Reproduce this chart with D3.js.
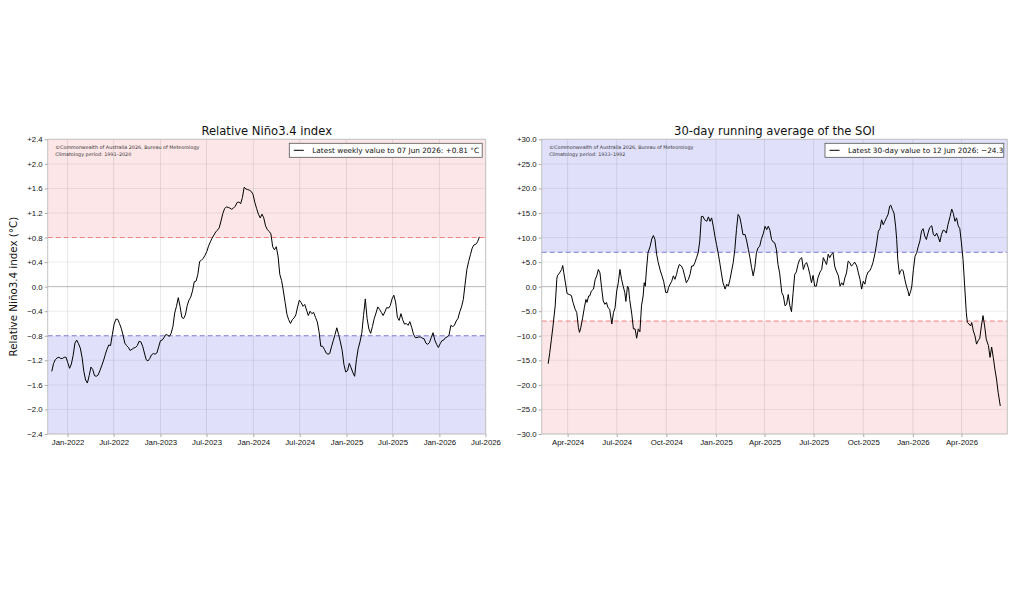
<!DOCTYPE html>
<html>
<head>
<meta charset="utf-8">
<script src="https://cdn.jsdelivr.net/npm/d3@7"></script>
<style>
  body { margin: 0; background: #fff; }
  svg { font-family: "DejaVu Sans", sans-serif; }
</style>
</head>
<body>
<div id="chart"></div>
<script>
// ---- data ----
// weekly relative Nino3.4, first week ending 31 Oct 2021, last 07 Jun 2026
const ninoStart = "2021-10-31";
const ninoValues = [
  -1.38,-1.25,-1.19,-1.16,-1.15,-1.17,-1.17,-1.15,-1.15,-1.24,
  -1.33,-1.26,-1.12,-0.92,-0.87,-0.93,-1.00,-1.15,-1.38,-1.52,
  -1.57,-1.45,-1.31,-1.35,-1.45,-1.46,-1.44,-1.37,-1.29,-1.21,
  -1.11,-1.02,-0.95,-0.96,-0.78,-0.61,-0.53,-0.53,-0.60,-0.68,
  -0.79,-0.92,-0.96,-0.99,-1.04,-1.02,-1.00,-0.99,-0.96,-0.89,
  -0.90,-0.97,-1.08,-1.19,-1.21,-1.17,-1.11,-1.09,-1.10,-1.08,
  -0.98,-0.88,-0.87,-0.83,-0.78,-0.79,-0.81,-0.76,-0.65,-0.43,
  -0.32,-0.18,-0.32,-0.50,-0.52,-0.46,-0.31,-0.22,-0.17,-0.07,
  0.08,0.09,0.20,0.41,0.43,0.46,0.51,0.57,0.66,0.73,
  0.79,0.84,0.89,0.92,0.96,1.07,1.19,1.27,1.30,1.29,
  1.28,1.26,1.28,1.31,1.37,1.38,1.35,1.45,1.62,1.59,
  1.58,1.57,1.55,1.50,1.37,1.27,1.18,1.12,1.18,1.12,
  0.99,0.93,0.90,0.86,0.65,0.60,0.65,0.50,0.20,0.10,
  -0.07,-0.26,-0.45,-0.54,-0.60,-0.54,-0.51,-0.46,-0.33,-0.22,
  -0.26,-0.32,-0.29,-0.38,-0.47,-0.40,-0.44,-0.42,-0.50,-0.57,
  -0.73,-0.97,-0.97,-1.02,-1.08,-1.10,-1.09,-0.98,-0.88,-0.78,
  -0.67,-0.78,-0.90,-1.04,-1.27,-1.39,-1.37,-1.25,-1.32,-1.40,
  -1.46,-1.19,-1.01,-0.90,-0.76,-0.47,-0.20,-0.52,-0.69,-0.76,
  -0.65,-0.52,-0.43,-0.33,-0.37,-0.42,-0.47,-0.41,-0.34,-0.35,
  -0.31,-0.20,-0.14,-0.25,-0.50,-0.55,-0.44,-0.54,-0.61,-0.60,
  -0.63,-0.57,-0.66,-0.77,-0.83,-0.83,-0.82,-0.82,-0.84,-0.85,
  -0.92,-0.94,-0.91,-0.83,-0.75,-0.87,-0.94,-0.99,-0.93,-0.88,
  -0.87,-0.83,-0.82,-0.79,-0.63,-0.65,-0.63,-0.56,-0.52,-0.41,
  -0.33,-0.21,0.04,0.28,0.41,0.52,0.63,0.68,0.69,0.73,0.81
];
const ninoTicks = [-2.4,-2.0,-1.6,-1.2,-0.8,-0.4,0,0.4,0.8,1.2,1.6,2.0,2.4];
const ninoMonths = ["2022-01-01","2022-07-01","2023-01-01","2023-07-01","2024-01-01",
  "2024-07-01","2025-01-01","2025-07-01","2026-01-01","2026-07-01"];
const ninoRange = ["2021-10-15","2026-07-02"];

// 30-day SOI, day counted from 1 Feb 2024
const soiBase = "2024-02-01";
const soiDay = [
  24,27,30,33,37,40,41,45,49,51,53,57,59,63,67,70,74,77,80,82,84,88,91,94,96,99,101,104,108,111,
  114,117,120,123,126,129,132,135,138,142,145,148,151,154,157,160,163,166,168,171,173,175,179,182,185,188,191,194,197,200,
  202,204,206,209,213,216,219,222,225,228,232,235,238,242,245,247,250,253,256,259,262,264,267,271,274,277,280,284,287,290,
  293,296,299,302,305,308,311,314,318,321,324,327,330,333,336,339,342,345,348,352,355,358,361,364,367,370,373,376,379,382,
  385,389,392,395,398,401,404,407,410,413,416,419,423,426,429,432,435,438,441,444,447,450,453,457,460,463,466,469,472,475,
  478,481,484,487,490,494,497,500,503,506,509,512,515,518,521,524,528,531,534,537,540,543,546,549,552,555,558,562,565,568,
  571,574,577,580,583,586,589,592,596,599,602,605,608,611,614,617,620,623,626,630,633,636,639,642,645,648,651,654,657,659,
  662,665,668,670,672,675,677,680,682,685,688,691,693,696,698,701,704,707,710,713,716,719,722,725,728,731,735,738,741,744,
  747,750,753,756,759,762,765,769,772,775,778,781,784,787,790,793,796,799,801,804,807,809,812,815,818,821,824,827,830,833,
  836,840,843,846,849,852,855,858,862
];
const soiValues = [
  -15.7,-13.4,-10.7,-8.0,-3.9,1.5,2.2,2.8,3.5,4.3,2.8,0.1,-1.4,-1.6,-1.8,-3.2,-4.6,-5.3,-8.3,-9.3,-8.6,-6.3,-4.3,-2.6,-3.2,-1.9,-1.9,-0.9,-0.5,1.4,
  2.2,3.5,2.8,-0.2,-2.9,-3.6,-3.2,-4.3,-4.6,-7.6,-5.3,-4.3,-0.9,0.8,3.5,1.5,0.1,-1.2,-3.0,0.1,-0.2,-2.6,-5.6,-8.6,-8.6,-10.5,-8.6,-9.2,-3.9,-1.9,
  0.8,0.1,3.2,6.9,8.2,9.7,10.4,9.6,6.6,4.9,3.2,2.2,1.1,-1.2,-1.2,-0.2,0.5,1.1,2.2,1.5,2.5,3.5,4.5,4.2,3.5,2.2,0.8,1.5,2.5,4.2,
  4.2,4.9,5.9,6.9,9.3,14.3,14.3,13.6,13.3,14.2,13.3,14.0,12.3,10.3,8.6,6.9,4.9,2.8,0.8,-0.5,0.5,0.1,1.5,3.2,4.9,7.6,11.6,14.7,14.2,12.6,
  10.6,10.6,9.3,7.6,5.9,3.9,2.2,3.9,6.9,7.9,8.2,9.6,10.9,12.3,11.6,12.3,11.5,9.6,9.1,8.9,7.6,4.5,2.8,-1.2,-1.9,-3.9,-3.6,-1.6,-3.9,-5.1,
  -1.2,2.5,3.0,4.5,5.5,5.9,3.5,4.5,4.9,3.9,2.5,0.8,2.3,0.1,0.1,1.8,3.0,3.5,5.9,5.2,4.5,6.6,5.9,6.6,6.9,4.2,3.2,2.2,0.1,0.8,
  0.3,1.8,2.8,5.2,4.9,4.2,4.5,5.0,4.2,2.8,1.5,-0.5,1.1,0.5,2.2,3.0,3.2,3.9,4.9,6.9,8.9,11.3,11.8,13.6,12.6,13.3,14.0,14.7,16.4,16.6,
  15.7,15.0,12.3,9.6,5.5,2.5,3.2,3.5,3.2,1.5,0.1,-0.9,-1.9,-0.9,0.1,3.5,6.2,6.9,8.2,9.3,11.3,11.8,10.3,9.6,10.9,12.0,12.4,10.6,10.3,10.9,
  10.1,9.1,10.6,11.5,11.4,10.9,12.6,14.3,15.8,14.9,13.3,14.0,12.4,11.8,8.9,5.5,0.1,-5.3,-7.3,-7.6,-8.0,-7.3,-9.0,-10.0,-11.7,-11.0,-10.5,-8.0,-5.9,-8.0,
  -10.7,-12.0,-14.4,-12.3,-14.4,-16.8,-18.8,-21.5,-24.3
];
const soiTicks = [-30,-25,-20,-15,-10,-5,0,5,10,15,20,25,30];
const soiMonths = ["2024-04-01","2024-07-01","2024-10-01","2025-01-01","2025-04-01",
  "2025-07-01","2025-10-01","2026-01-01","2026-04-01"];
const soiRange = ["2024-02-13","2026-06-25"];

// ---- layout ----
const width = 1024, height = 616;
const plotTop = 139.3, plotBottom = 434;
const pink = "#fde6e7", lilac = "#e0e0fb";
const redDash = "#f08080", blueDash = "#7878d8";

const parse = d3.timeParse("%Y-%m-%d");
const fmtMonth = d3.timeFormat("%b-%Y");

const ninoData = ninoValues.map((v, i) => ({ date: d3.timeDay.offset(parse(ninoStart), 7 * i), value: v }));
const soiData = soiValues.map((v, i) => ({ date: d3.timeDay.offset(parse(soiBase), soiDay[i]), value: v }));

const svg = d3.select("#chart").append("svg")
  .attr("width", width)
  .attr("height", height)
  .attr("viewBox", [0, 0, width, height]);

function signed(d) {
  if (Math.abs(d) < 1e-9) return "0.0";
  return (d > 0 ? "+" : "\u2212") + Math.abs(d).toFixed(1);
}

function drawPanel(cfg) {
  const g = svg.append("g");
  const x = d3.scaleTime().domain(cfg.range.map(parse)).range([cfg.left, cfg.right]);
  const y = d3.scaleLinear().domain(d3.extent(cfg.yTicks)).range([plotBottom, plotTop]);
  const xTicks = cfg.months.map(parse);

  // shaded bands above/below thresholds
  g.append("rect")
    .attr("x", cfg.left).attr("width", cfg.right - cfg.left)
    .attr("y", plotTop).attr("height", y(cfg.threshold) - plotTop)
    .attr("fill", cfg.upperFill);
  g.append("rect")
    .attr("x", cfg.left).attr("width", cfg.right - cfg.left)
    .attr("y", y(-cfg.threshold)).attr("height", plotBottom - y(-cfg.threshold))
    .attr("fill", cfg.lowerFill);

  // grid (skip the rows the dashed thresholds sit on)
  g.append("g").selectAll("line").data(xTicks).join("line")
    .attr("x1", d => x(d)).attr("x2", d => x(d))
    .attr("y1", plotTop).attr("y2", plotBottom)
    .attr("stroke", "#000").attr("stroke-opacity", 0.09);
  g.append("g").selectAll("line")
    .data(cfg.yTicks.filter(t => Math.abs(Math.abs(t) - cfg.threshold) > 1e-9))
    .join("line")
    .attr("x1", cfg.left).attr("x2", cfg.right)
    .attr("y1", d => y(d)).attr("y2", d => y(d))
    .attr("stroke", "#000").attr("stroke-opacity", d => d === 0 ? 0.28 : 0.07);

  // thresholds
  g.append("line")
    .attr("x1", cfg.left).attr("x2", cfg.right)
    .attr("y1", y(cfg.threshold)).attr("y2", y(cfg.threshold))
    .attr("stroke", cfg.upperDash).attr("stroke-dasharray", "5,3");
  g.append("line")
    .attr("x1", cfg.left).attr("x2", cfg.right)
    .attr("y1", y(-cfg.threshold)).attr("y2", y(-cfg.threshold))
    .attr("stroke", cfg.lowerDash).attr("stroke-dasharray", "5,3");

  // series
  const line = d3.line().x(d => x(d.date)).y(d => y(d.value));
  g.append("path")
    .datum(cfg.data)
    .attr("fill", "none")
    .attr("stroke", "#000")
    .attr("stroke-width", 1)
    .attr("stroke-linejoin", "round")
    .attr("d", line);

  // frame
  g.append("rect")
    .attr("x", cfg.left).attr("y", plotTop)
    .attr("width", cfg.right - cfg.left).attr("height", plotBottom - plotTop)
    .attr("fill", "none").attr("stroke", "#c4c4c4");

  // axes
  const xAxis = g.append("g")
    .attr("transform", `translate(0,${plotBottom})`)
    .call(d3.axisBottom(x).tickValues(xTicks).tickFormat(fmtMonth).tickSize(3).tickPadding(2));
  const yAxis = g.append("g")
    .attr("transform", `translate(${cfg.left},0)`)
    .call(d3.axisLeft(y).tickValues(cfg.yTicks).tickFormat(signed).tickSize(3).tickPadding(2));
  [xAxis, yAxis].forEach(a => {
    a.select(".domain").remove();
    a.selectAll(".tick line").attr("stroke", "#aaa");
    a.selectAll(".tick text").attr("fill", "#111").style("font-size", "7.8px");
  });

  // title
  g.append("text")
    .attr("x", (cfg.left + cfg.right) / 2).attr("y", 135)
    .attr("text-anchor", "middle")
    .style("font-size", "11.6px").attr("fill", "#111")
    .text(cfg.title);

  // credits
  const credit = g.append("text")
    .attr("x", cfg.left + 7.5).attr("y", 148.5)
    .style("font-size", "4.85px").attr("fill", "#333");
  credit.append("tspan").text("\u00a9Commonwealth of Australia 2026, Bureau of Meteorology");
  credit.append("tspan").attr("x", cfg.left + 7.5).attr("dy", 7).text(cfg.climatology);

  // legend
  const lg = g.append("g");
  lg.append("rect")
    .attr("x", cfg.legendX).attr("y", 143.3)
    .attr("width", cfg.right - 3.5 - cfg.legendX).attr("height", 14)
    .attr("fill", "#fff").attr("stroke", "#555").attr("stroke-width", 0.8);
  lg.append("line")
    .attr("x1", cfg.legendX + 4.5).attr("x2", cfg.legendX + 14.5)
    .attr("y1", 150.3).attr("y2", 150.3)
    .attr("stroke", "#000");
  lg.append("text")
    .attr("x", cfg.legendX + 23).attr("y", 153)
    .style("font-size", "7.3px").attr("fill", "#111")
    .text(cfg.legend);

  return g;
}

drawPanel({
  left: 47.7, right: 485.7,
  range: ninoRange, months: ninoMonths, yTicks: ninoTicks,
  threshold: 0.8, upperFill: pink, lowerFill: lilac,
  upperDash: redDash, lowerDash: blueDash,
  data: ninoData,
  title: "Relative Ni\u00f1o3.4 index",
  climatology: "Climatology period: 1991\u20132020",
  legendX: 289.3,
  legend: "Latest weekly value to 07 Jun 2026: +0.81 \u00b0C"
});

drawPanel({
  left: 541.7, right: 1007.3,
  range: soiRange, months: soiMonths, yTicks: soiTicks,
  threshold: 7, upperFill: lilac, lowerFill: pink,
  upperDash: blueDash, lowerDash: redDash,
  data: soiData,
  title: "30-day running average of the SOI",
  climatology: "Climatology period: 1933\u20131992",
  legendX: 825,
  legend: "Latest 30-day value to 12 Jun 2026: \u221224.3"
});

// y label for the Nino panel only
svg.append("text")
  .attr("transform", `translate(17,${(plotTop + plotBottom) / 2}) rotate(-90)`)
  .attr("text-anchor", "middle")
  .style("font-size", "10.3px").attr("fill", "#111")
  .text("Relative Ni\u00f1o3.4 index (\u00b0C)");
</script>
</body>
</html>
